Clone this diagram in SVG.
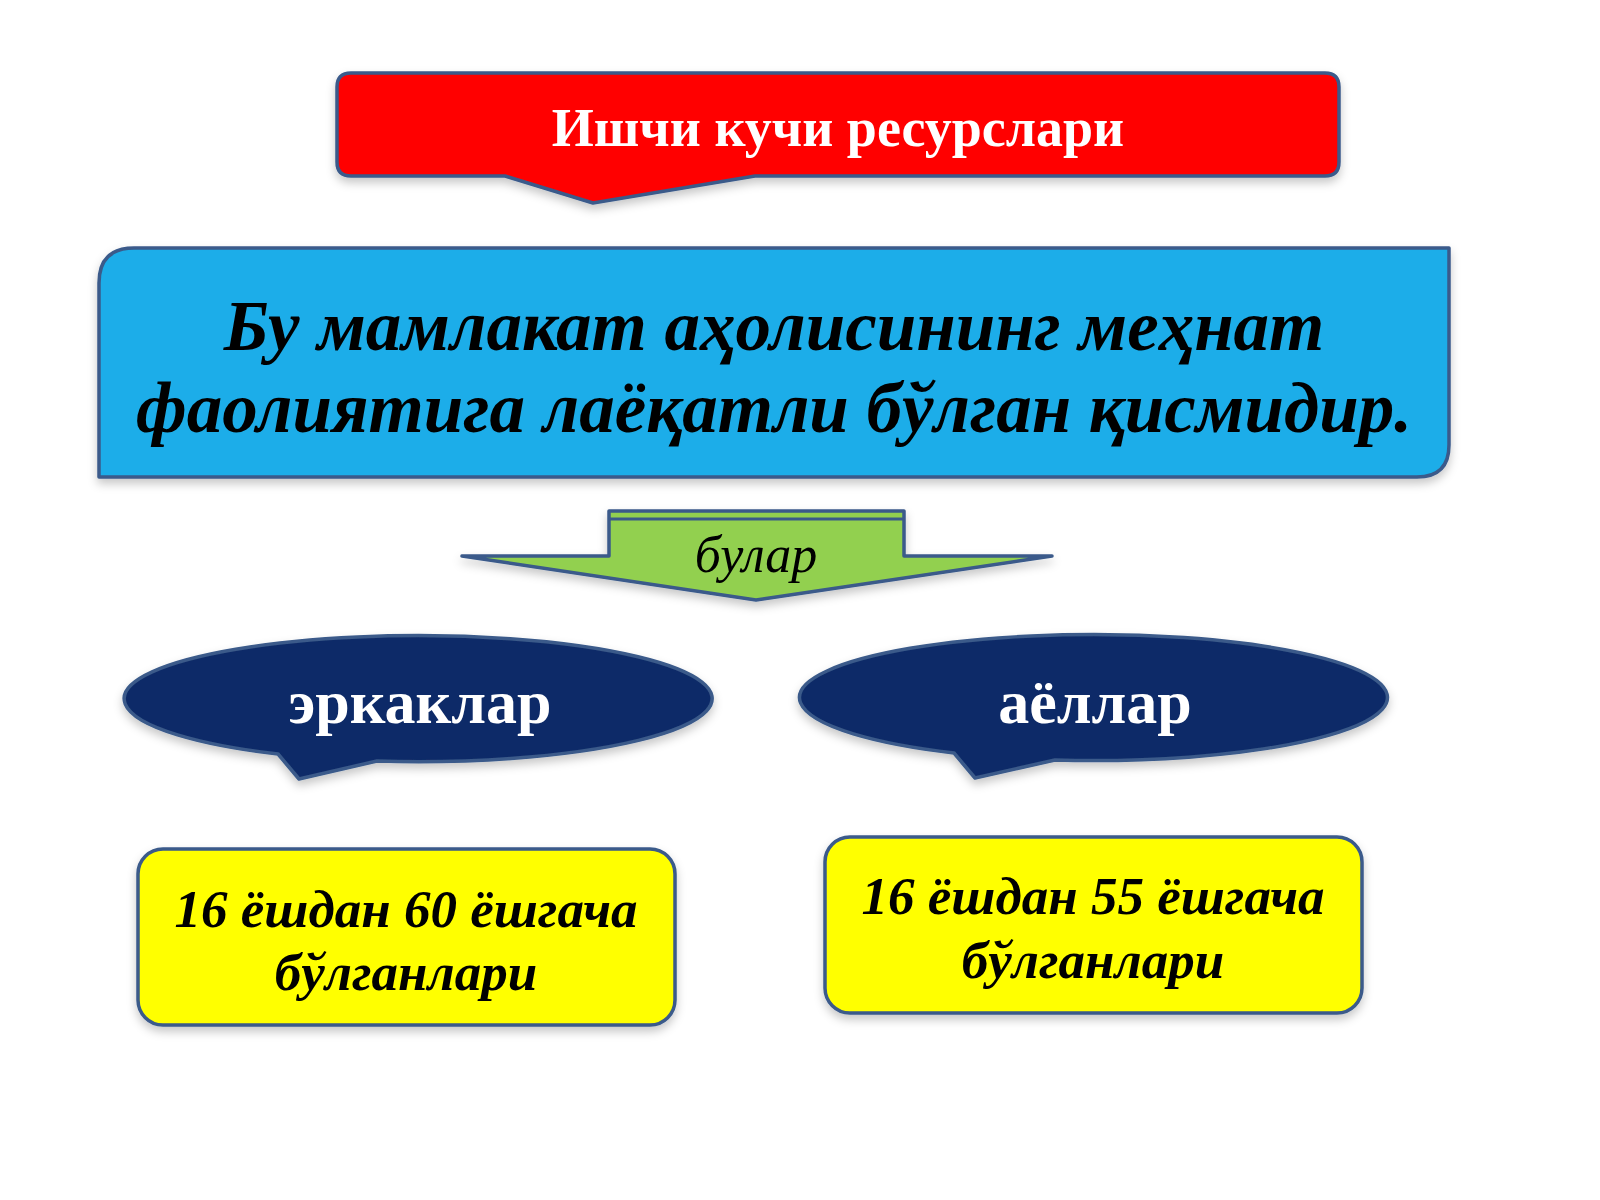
<svg xmlns="http://www.w3.org/2000/svg" width="1600" height="1200" viewBox="0 0 1600 1200">
<defs>
<filter id="sh" x="-10%" y="-20%" width="120%" height="150%">
<feDropShadow dx="0" dy="5" stdDeviation="5" flood-color="#000" flood-opacity="0.22"/>
</filter>
<style>
.edge{stroke:#3A5A8A;stroke-width:3.5;stroke-linejoin:round}
.serif{font-family:"Liberation Serif","DejaVu Serif",serif}
.title{font-size:54px;font-weight:bold;fill:#FFFFFF}
.def{font-size:71px;font-weight:bold;font-style:italic;fill:#000}
.lbl{font-size:52px;font-style:italic;fill:#000}
.oval{font-size:62px;font-weight:bold;fill:#FFFFFF}
.age{font-size:53px;font-weight:bold;font-style:italic;fill:#000}
</style>
</defs>
<rect width="1600" height="1200" fill="#FFFFFF"/>

<g id="title">
<path class="edge" filter="url(#sh)" fill="#FF0000" d="M351,73 H1325 Q1339,73 1339,87 V162 Q1339,176 1325,176 H755 L593,203 L505,176 H351 Q337,176 337,162 V87 Q337,73 351,73 Z"/>
<text class="serif title" x="838" y="146" text-anchor="middle">Ишчи кучи ресурслари</text>
</g>

<g id="definition">
<path class="edge" filter="url(#sh)" fill="#1BADE9" d="M99,477 V283 Q99,248 134,248 H1449 V445 Q1449,477 1417,477 Z"/>
<text class="serif def" text-anchor="middle"><tspan x="774" y="350">Бу мамлакат аҳолисининг меҳнат</tspan><tspan x="774" y="432">фаолиятига лаёқатли бўлган қисмидир.</tspan></text>
</g>

<g id="arrow">
<path class="edge" filter="url(#sh)" fill="#92D050" d="M462,556 H609 V511 H904 V556 H1052 L756,600 Z"/>
<line x1="609" y1="519" x2="904" y2="519" stroke="#3A5A8A" stroke-width="3"/>
<text class="serif lbl" x="756" y="572" text-anchor="middle">булар</text>
</g>

<g id="men">
<path class="edge" filter="url(#sh)" fill="#0F2B67" d="M278,754 L299,779 L377,761 A294,63 0 1 0 278,754 Z"/>
<text class="serif oval" x="420" y="723" text-anchor="middle">эркаклар</text>
</g>

<g id="women">
<path class="edge" filter="url(#sh)" fill="#0F2B67" d="M954,753 L975,778 L1055,760 A294,63 0 1 0 954,753 Z"/>
<text class="serif oval" x="1095" y="723" text-anchor="middle">аёллар</text>
</g>

<g id="men-age">
<rect class="edge" filter="url(#sh)" fill="#FFFF00" x="138" y="849" width="537" height="176" rx="25"/>
<text class="serif age" text-anchor="middle"><tspan x="406" y="927">16 ёшдан 60 ёшгача</tspan><tspan x="406" y="990">бўлганлари</tspan></text>
</g>

<g id="women-age">
<rect class="edge" filter="url(#sh)" fill="#FFFF00" x="825" y="837" width="537" height="176" rx="25"/>
<text class="serif age" text-anchor="middle"><tspan x="1093" y="914">16 ёшдан 55 ёшгача</tspan><tspan x="1093" y="978">бўлганлари</tspan></text>
</g>

<g id="connectors"></g>
</svg>
